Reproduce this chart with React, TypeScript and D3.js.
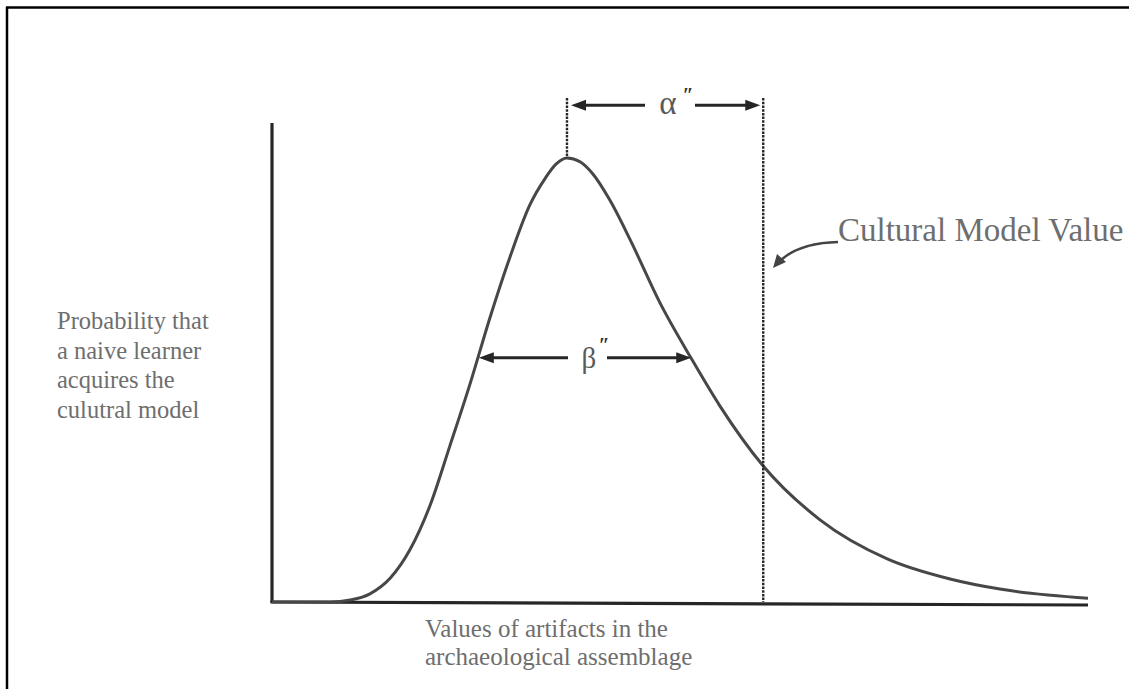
import React from "react";
import * as d3 from "d3";

// Values of artifacts (x, 0-100 arbitrary scale) and acquisition probability (y)
const artifactValues = [0, 7.1, 9.6, 12, 14.5, 16.9, 19.4, 21.8, 24.3, 26.7, 29.2, 31.6, 33.5, 34.8, 36.15, 37.75, 39.3, 41.4, 43.9, 47.5, 51.5, 54.9, 60.2, 67.2, 75.4, 83.1, 89.2, 100];
const probabilities = [0, 0, 0.004, 0.017, 0.05, 0.109, 0.203, 0.326, 0.457, 0.593, 0.722, 0.829, 0.885, 0.914, 0.927, 0.919, 0.894, 0.839, 0.756, 0.626, 0.505, 0.409, 0.284, 0.171, 0.09, 0.048, 0.027, 0.008];

const peakValue = 36.15;
const peakProb = 0.927;
const modelValue = 60.2;
const betaRange = [25.1, 51.5];
const betaLevel = 0.51;
const alphaLevel = 1.037;
const dashTopLevel = 1.052;

const yLabelLines = ["Probability that", "a naive learner", "acquires the", "culutral model"];
const xLabelLines = ["Values of artifacts in the", "archaeological assemblage"];
const modelLabel = "Cultural Model Value";

const W = 1129;
const H = 689;

export default function App() {
  const x = d3.scaleLinear().domain([0, 100]).range([272, 1088]);
  const y = d3.scaleLinear().domain([0, 1]).range([602, 123]);

  const pts: [number, number][] = artifactValues.map((v, i) => [v, probabilities[i]]);
  const line = d3
    .line<[number, number]>()
    .x((d) => x(d[0]))
    .y((d) => y(d[1]))
    .curve(d3.curveMonotoneX);

  const ink = "#474747";
  const dark = "#262626";
  const textCol = "#6e6e6e";
  const serif = "'Liberation Serif', 'Times New Roman', serif";

  const arrowHead = (tx: number, ty: number, dir: number) => {
    const len = 15;
    const half = 5.5;
    return `M${tx},${ty} L${tx - dir * len},${ty - half} L${tx - dir * len},${ty + half} Z`;
  };

  const ax = y(alphaLevel);
  const by = y(betaLevel);
  const xPeak = x(peakValue);
  const xModel = x(modelValue);

  return (
    <svg
      width={W}
      height={H}
      viewBox={`0 0 ${W} ${H}`}
      style={{ position: "absolute", left: 0, top: 0, background: "#fff" }}
    >
      <rect x={0} y={0} width={W} height={H} fill="#fff" />
      {/* frame */}
      <line x1={6} y1={7.5} x2={W} y2={7.5} stroke="#000" strokeWidth={2.5} />
      <line x1={7} y1={7} x2={7} y2={H} stroke="#000" strokeWidth={2.5} />

      {/* axes */}
      <line x1={x(0)} y1={y(0)} x2={x(0)} y2={y(1)} stroke={dark} strokeWidth={3.2} />
      <line x1={x(0) - 1.6} y1={y(0)} x2={x(100)} y2={y(0) + 3} stroke={dark} strokeWidth={3.2} />

      {/* curve */}
      <path d={line(pts) || ""} fill="none" stroke={ink} strokeWidth={3} />

      {/* dashed reference lines */}
      <line x1={xPeak} y1={y(dashTopLevel)} x2={xPeak} y2={y(peakProb)} stroke={dark} strokeWidth={2.4} strokeDasharray="2.5,1.2" />
      <line x1={xModel} y1={y(dashTopLevel)} x2={xModel} y2={y(0)} stroke={dark} strokeWidth={2.4} strokeDasharray="2.5,1.2" />

      {/* alpha arrow */}
      <line x1={xPeak + 14} y1={ax} x2={645} y2={ax} stroke={dark} strokeWidth={3} />
      <path d={arrowHead(xPeak + 4, ax, -1)} fill={dark} />
      <line x1={695} y1={ax} x2={xModel - 14} y2={ax} stroke={dark} strokeWidth={3} />
      <path d={arrowHead(xModel - 3, ax, 1)} fill={dark} />
      <text x={668} y={ax + 9} textAnchor="middle" fontFamily={serif} fontSize={33} fill="#5a5a5a">α</text>
      <text x={688} y={ax - 3} textAnchor="middle" fontFamily={serif} fontSize={20} fontWeight="bold" fill="#333">″</text>

      {/* beta arrow */}
      <line x1={x(betaRange[0]) + 14} y1={by} x2={568} y2={by} stroke={dark} strokeWidth={3} />
      <path d={arrowHead(x(betaRange[0]) + 2, by, -1)} fill={dark} />
      <line x1={607} y1={by} x2={x(betaRange[1]) - 14} y2={by} stroke={dark} strokeWidth={3} />
      <path d={arrowHead(x(betaRange[1]) - 1, by, 1)} fill={dark} />
      <text x={589} y={by + 10} textAnchor="middle" fontFamily={serif} fontSize={29} fill="#5a5a5a">β</text>
      <text x={604} y={by - 6} textAnchor="middle" fontFamily={serif} fontSize={20} fontWeight="bold" fill="#333">″</text>

      {/* cultural model value label + arrow */}
      <text x={838} y={241} fontFamily={serif} fontSize={33} fill={textCol}>{modelLabel}</text>
      <path d={`M838,242 Q800,243 781,260`} fill="none" stroke="#444" strokeWidth={2.4} />
      <path d="M773,268 L777,254 L786,262 Z" fill="#444" />

      {/* y label */}
      <text fontFamily={serif} fontSize={24.5} fill={textCol}>
        {yLabelLines.map((t, i) => (
          <tspan key={i} x={57} y={329 + i * 29.6}>{t}</tspan>
        ))}
      </text>

      {/* x label */}
      <text fontFamily={serif} fontSize={25} fill={textCol}>
        {xLabelLines.map((t, i) => (
          <tspan key={i} x={425} y={637 + i * 28}>{t}</tspan>
        ))}
      </text>
    </svg>
  );
}
